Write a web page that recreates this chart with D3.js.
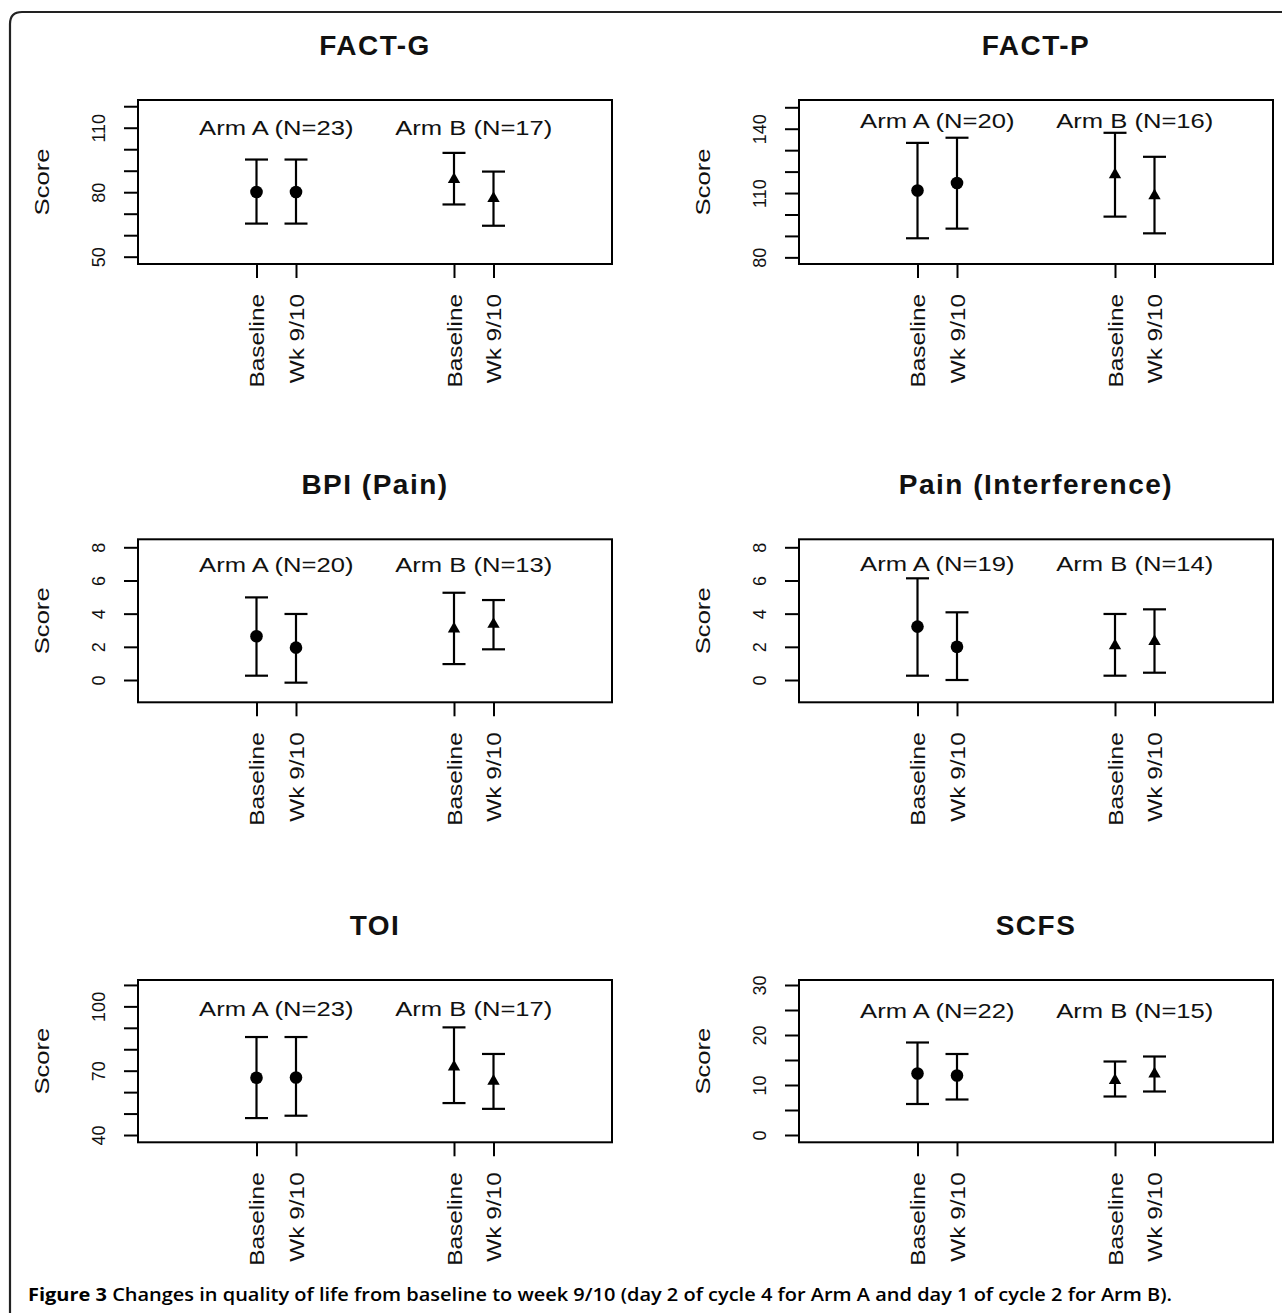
<!DOCTYPE html>
<html>
<head>
<meta charset="utf-8">
<script src="https://cdn.jsdelivr.net/npm/d3@7"></script>
<style>
  html, body { margin: 0; padding: 0; background: #fff; }
  svg { display: block; }
</style>
</head>
<body>
<svg id="fig" width="1282" height="1313"></svg>
<script>
// ---- data: one entry per panel, two time points per arm ----
const panelTitles = ["FACT-G", "FACT-P", "BPI (Pain)", "Pain (Interference)", "TOI", "SCFS"];
const timepoints = ["Baseline", "Wk 9/10"];
const armNames = ["Arm A", "Arm B"];
const armN = [[23, 17], [20, 16], [20, 13], [19, 14], [23, 17], [22, 15]];

// Arm A: mean and error-bar limits at Baseline / Wk 9/10
const meanA  = [[80.1, 80.1], [111.2, 114.7], [2.64, 1.95], [3.22, 2.00], [66.7, 66.8], [12.3, 11.9]];
const lowerA = [[65.4, 65.4], [88.9, 93.4],   [0.26, -0.16], [0.26, 0.00], [47.9, 49.0], [6.2, 7.1]];
const upperA = [[95.2, 95.2], [133.4, 135.8], [4.98, 3.98], [6.13, 4.08], [85.7, 85.7], [18.5, 16.2]];

// Arm B: mean and error-bar limits at Baseline / Wk 9/10
const meanB  = [[86.0, 77.1], [118.6, 108.8], [3.08, 3.36], [2.07, 2.33], [71.8, 65.1], [10.9, 12.2]];
const lowerB = [[74.3, 64.4], [99.0, 91.2],   [0.96, 1.85], [0.26, 0.44], [54.9, 52.2], [7.7, 8.7]];
const upperB = [[98.3, 89.6], [138.1, 126.9], [5.26, 4.82], [3.98, 4.26], [90.2, 77.8], [14.7, 15.7]];

// y-axis ticks and the subset that carries a label
const yTicks = [
  [50, 60, 70, 80, 90, 100, 110, 120],
  [80, 90, 100, 110, 120, 130, 140, 150],
  [0, 2, 4, 6, 8],
  [0, 2, 4, 6, 8],
  [40, 50, 60, 70, 80, 90, 100, 110],
  [0, 5, 10, 15, 20, 25, 30]
];
const yTickLabels = [
  [50, 80, 110],
  [80, 110, 140],
  [0, 2, 4, 6, 8],
  [0, 2, 4, 6, 8],
  [40, 70, 100],
  [0, 10, 20, 30]
];

const caption = ["Figure 3", " Changes in quality of life from baseline to week 9/10 (day 2 of cycle 4 for Arm A and day 1 of cycle 2 for Arm B)."];

// ---- layout ----
const colLeft = [138, 799];
const boxW = 474;
const rowTop = [100, 539.3, 980];
const boxH = [164, 163, 162.3];
const yDomains = [[46.6, 122.9], [76.9, 153.4], [-1.344, 8.482], [-1.344, 8.482], [36.6, 112.3], [-1.46, 31.0]];
const armLabelAt = [110, 144, 6.95, 7.0, 98.8, 24.9];   // data-unit height of the arm captions
const xPos = [[3, 4], [8, 9]];                           // slot of each arm / time point
const armCenter = [3.5, 8.5];

const FONT = '"Liberation Sans", Arial, sans-serif';
const WIDE = 1.22;   // horizontal stretch of the plot lettering

const svg = d3.select("#fig");

// outer frame with rounded top-left corner
svg.append("path")
  .attr("d", "M10,1330 V24 Q10,12 22,12 H1300")
  .attr("fill", "none").attr("stroke", "#222").attr("stroke-width", 2.2);

panelTitles.forEach((title, p) => {
  const col = p % 2, row = Math.floor(p / 2);
  const left = colLeft[col], top = rowTop[row], h = boxH[row];

  const x = d3.scaleLinear().domain([0, 12]).range([left, left + boxW]);
  const y = d3.scaleLinear().domain(yDomains[p]).range([top + h, top]);

  const g = svg.append("g");

  // title
  g.append("text")
    .attr("x", left + boxW / 2).attr("y", top - 45)
    .attr("text-anchor", "middle")
    .attr("font-family", FONT).attr("font-weight", "bold")
    .attr("font-size", 28).attr("letter-spacing", 1.5)
    .attr("fill", "#111")
    .text(title);

  // y axis
  const labelSet = new Set(yTickLabels[p]);
  const yAxis = g.append("g")
    .attr("transform", `translate(${left},0)`)
    .call(d3.axisLeft(y).tickValues(yTicks[p]).tickSize(14)
      .tickFormat(d => labelSet.has(d) ? String(d) : ""));
  yAxis.attr("font-family", FONT).attr("font-size", 18);
  yAxis.select(".domain").remove();
  yAxis.selectAll(".tick line").attr("stroke", "#000").attr("stroke-width", 2);
  yAxis.selectAll(".tick text")
    .attr("transform", "rotate(-90)")
    .attr("x", 0).attr("y", -33).attr("dy", null)
    .attr("text-anchor", "middle")
    .attr("fill", "#111");

  // x axis: one tick per arm / time point
  const slots = [], slotLabels = [];
  xPos.forEach(arr => arr.forEach((v, i) => { slots.push(v); slotLabels.push(timepoints[i]); }));
  const XS = 1.25;
  const xAxis = g.append("g")
    .attr("transform", `translate(0,${top + h})`)
    .call(d3.axisBottom(x).tickValues(slots).tickSize(14)
      .tickFormat((d, i) => slotLabels[i]));
  xAxis.attr("font-family", FONT).attr("font-size", 19.5);
  xAxis.select(".domain").remove();
  xAxis.selectAll(".tick line").attr("stroke", "#000").attr("stroke-width", 2);
  xAxis.selectAll(".tick text")
    .attr("transform", `rotate(-90) scale(${XS},1)`)
    .attr("x", -30 / XS).attr("y", 7).attr("dy", null)
    .attr("text-anchor", "end")
    .attr("fill", "#111");

  // "Score" axis title
  g.append("text")
    .attr("transform", `translate(${left - 89.5},${top + h / 2}) rotate(-90) scale(${WIDE},1)`)
    .attr("text-anchor", "middle")
    .attr("font-family", FONT).attr("font-size", 21)
    .attr("fill", "#111")
    .text("Score");

  // plot box
  g.append("rect")
    .attr("x", left).attr("y", top).attr("width", boxW).attr("height", h)
    .attr("fill", "none").attr("stroke", "#000").attr("stroke-width", 2);

  // arm captions
  armNames.forEach((name, a) => {
    g.append("text")
      .attr("transform", `translate(${x(armCenter[a])},${y(armLabelAt[p])}) scale(${WIDE},1)`)
      .attr("dy", "0.35em")
      .attr("text-anchor", "middle")
      .attr("font-family", FONT).attr("font-size", 21)
      .attr("fill", "#111")
      .text(`${name} (N=${armN[p][a]})`);
  });

  // error bars and point estimates
  const series = [
    { mean: meanA[p], lo: lowerA[p], hi: upperA[p], pos: xPos[0], shape: "circle" },
    { mean: meanB[p], lo: lowerB[p], hi: upperB[p], pos: xPos[1], shape: "triangle" }
  ];
  const cap = 11.5;
  series.forEach(s => {
    s.mean.forEach((m, i) => {
      const cx = x(s.pos[i]);
      const eb = g.append("g").attr("stroke", "#000").attr("stroke-width", 2.2);
      eb.append("line").attr("x1", cx).attr("x2", cx).attr("y1", y(s.lo[i])).attr("y2", y(s.hi[i]));
      eb.append("line").attr("x1", cx - cap).attr("x2", cx + cap).attr("y1", y(s.lo[i])).attr("y2", y(s.lo[i]));
      eb.append("line").attr("x1", cx - cap).attr("x2", cx + cap).attr("y1", y(s.hi[i])).attr("y2", y(s.hi[i]));
      if (s.shape === "circle") {
        g.append("circle").attr("cx", cx).attr("cy", y(m)).attr("r", 6.3).attr("fill", "#000");
      } else {
        g.append("path")
          .attr("d", d3.symbol(d3.symbolTriangle, 66)())
          .attr("transform", `translate(${cx},${y(m)})`)
          .attr("fill", "#000");
      }
    });
  });
});

// figure caption
const cap = svg.append("text")
  .attr("x", 28).attr("y", 1301)
  .attr("font-family", '"Open Sans", "Noto Sans", sans-serif')
  .attr("font-size", 18.5)
  .attr("textLength", 1144).attr("lengthAdjust", "spacingAndGlyphs")
  .attr("fill", "#000");
cap.append("tspan").attr("font-weight", "bold").text(caption[0]);
cap.append("tspan").attr("font-weight", 600).text(caption[1]);
</script>
</body>
</html>
